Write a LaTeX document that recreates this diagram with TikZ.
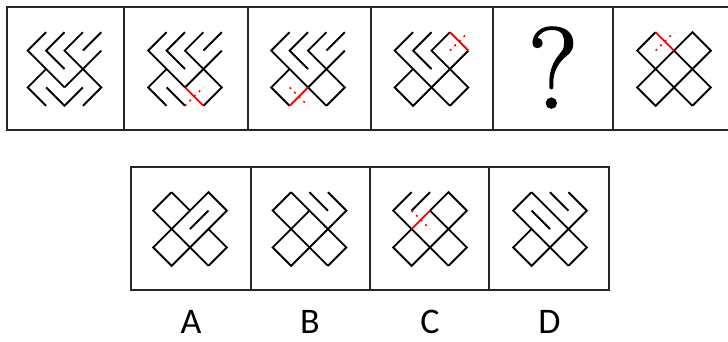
\documentclass[tikz,border=0pt]{standalone}
\usepackage{fontspec}
\newfontfamily\letra{Carlito}
\newfontfamily\signo[FakeBold=1.6]{Latin Modern Roman}
\tikzset{
  marco/.style={draw=black!85, line width=2pt},
  trazo/.style={line width=1.9pt},
  nuevo/.style={red, line width=1.9pt},
  previo/.style={red, line width=1.5pt, dash pattern=on 2pt off 4.5pt},
  celda/.style={shift={#1}, x={(9.2pt,-9.2pt)}, y={(9.2pt,9.2pt)}, shift={(-3,-3)}},
  etiqueta/.style={inner sep=2pt, font=\letra\fontsize{36}{36}\selectfont}
}
\begin{document}
\begin{tikzpicture}[x=1pt, y=-1pt]
  \useasboundingbox[fill=white] (0,0) rectangle (728,341);

  % Fila superior
  \draw[marco] (728,7) -- (7,7) -- (7,129.5) -- (728,129.5);
  \foreach \x in {123.5,248,371,493,613}
    \draw[marco] (\x,7) -- (\x,129.5);

  % Opciones
  \draw[marco] (131,167) rectangle (609,290);
  \foreach \x in {251,370,489}
    \draw[marco] (\x,167) -- (\x,290);

  % Figura 1
  \begin{scope}[celda={(64.5,69)}]
    \draw[trazo] (0,4) -- (0,2) -- (4,2);
    \draw[trazo] (1,5) -- (1,3) -- (3,3);
    \draw[trazo] (2,6) -- (2,4) -- (6,4) -- (6,2);
    \draw[trazo] (3,7) -- (3,5);
    \draw[trazo] (2,2) -- (2,0) -- (4,0);
    \draw[trazo] (3,1) -- (5,1) -- (5,3);
    \draw[trazo] (4,2) -- (4,6);
  \end{scope}

  % Figura 2
  \begin{scope}[celda={(185,69)}]
    \draw[trazo] (0,4) -- (0,2) -- (4,2);
    \draw[trazo] (1,5) -- (1,3) -- (3,3);
    \draw[trazo] (2,6) -- (2,4) -- (6,4) -- (6,2);
    \draw[trazo] (3,7) -- (3,5);
    \draw[trazo] (2,2) -- (2,0) -- (4,0);
    \draw[trazo] (3,1) -- (5,1);
    \draw[trazo] (4,2) -- (4,6);
    \draw[previo] (5,1) -- (5,3);
    \draw[nuevo] (4,2) -- (6,2);
  \end{scope}

  % Figura 3
  \begin{scope}[celda={(308,69)}]
    \draw[trazo] (0,4) -- (0,2) -- (6,2);
    \draw[trazo] (1,5) -- (1,3) -- (3,3);
    \draw[trazo] (2,6) -- (2,4) -- (6,4) -- (6,2);
    \draw[trazo] (3,7) -- (3,5);
    \draw[trazo] (2,2) -- (2,0) -- (4,0);
    \draw[trazo] (4,2) -- (4,6);
    \draw[previo] (3,1) -- (5,1);
    \draw[nuevo] (4,0) -- (4,2);
  \end{scope}

  % Figura 4
  \begin{scope}[celda={(431.5,69)}]
    \draw[trazo] (0,4) -- (0,2) -- (6,2);
    \draw[trazo] (1,5) -- (1,3) -- (3,3);
    \draw[trazo] (2,6) -- (2,4) -- (6,4) -- (6,2);
    \draw[trazo] (2,2) -- (2,0) -- (4,0) -- (4,6);
    \draw[previo] (3,5) -- (3,7);
    \draw[nuevo] (2,6) -- (4,6);
  \end{scope}

  % Incognita
  \node[inner sep=0pt, font=\signo\fontsize{115}{115}\selectfont] (q) at (553,67.5) {?};

  % Figura 6
  \begin{scope}[celda={(674,69)}]
    \draw[trazo] (0,4) -- (0,2) -- (6,2);
    \draw[trazo] (2,4) -- (6,4) -- (6,2);
    \draw[trazo] (2,0) -- (2,6) -- (4,6) -- (4,0) -- cycle;
    \draw[previo] (1,3) -- (1,5);
    \draw[nuevo] (0,4) -- (2,4);
  \end{scope}

  % Opcion A
  \begin{scope}[celda={(190,229)}]
    \draw[trazo] (0,4) -- (0,2) -- (6,2);
    \draw[trazo] (0,4) -- (2,4);
    \draw[trazo] (4,4) -- (6,4) -- (6,2);
    \draw[trazo] (2,0) -- (2,6) -- (4,6) -- (4,0) -- cycle;
    \draw[trazo] (3,3) -- (3,5);
  \end{scope}

  % Opcion B
  \begin{scope}[celda={(309.5,229)}]
    \draw[trazo] (0,4) -- (0,2) -- (6,2);
    \draw[trazo] (0,4) -- (6,4) -- (6,2);
    \draw[trazo] (2,4) -- (2,0) -- (4,0) -- (4,6) -- (2,6);
    \draw[trazo] (1,5) -- (3,5);
  \end{scope}

  % Opcion C
  \begin{scope}[celda={(430,229)}]
    \draw[trazo] (0,4) -- (0,2) -- (6,2);
    \draw[trazo] (2,4) -- (6,4) -- (6,2);
    \draw[trazo] (2,2) -- (2,0) -- (4,0) -- (4,6) -- (2,6) -- (2,4);
    \draw[trazo] (1,3) -- (1,5);
    \draw[previo] (1,3) -- (3,3);
    \draw[nuevo] (2,2) -- (2,4);
  \end{scope}

  % Opcion D
  \begin{scope}[celda={(550,229)}]
    \draw[trazo] (0,4) -- (0,2) -- (6,2);
    \draw[trazo] (0,4) -- (6,4) -- (6,2);
    \draw[trazo] (2,2) -- (2,0) -- (4,0) -- (4,6) -- (2,6);
    \draw[trazo] (1,3) -- (3,3);
    \draw[trazo] (1,5) -- (3,5);
  \end{scope}

  % Letras
  \node[etiqueta] (lA) at (191,322) {A};
  \node[etiqueta] (lB) at (310,322) {B};
  \node[etiqueta] (lC) at (430,322) {C};
  \node[etiqueta] (lD) at (549.5,322) {D};
\end{tikzpicture}
\end{document}
